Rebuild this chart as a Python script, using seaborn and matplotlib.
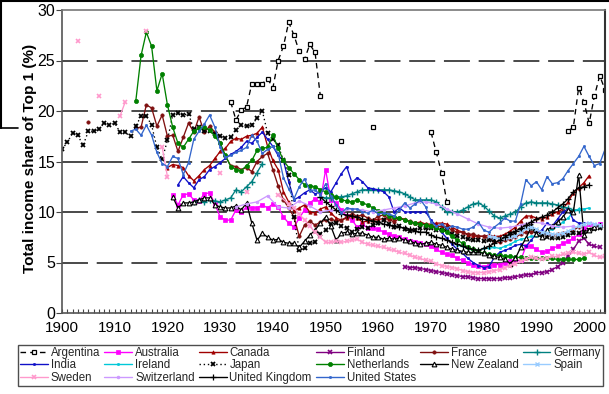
import matplotlib
matplotlib.use("Agg")
import matplotlib.pyplot as plt
import pandas as pd
import seaborn as sns
from matplotlib.lines import Line2D

sns.set_theme(style="white")
plt.rcParams['font.family'] = ['Liberation Sans', 'DejaVu Sans']
plt.rcParams['lines.scale_dashes'] = False

N = None  # gap in a series

# ---------------- data (top 1% income share, %) ----------------
arg_years = list(range(1932, 1951)) + [1953, 1954, 1959, 1960] + list(range(1970, 1975)) + list(range(1996, 2004))
arg_vals = [20.9, 19.1, 20.1, 20.4, 22.7, 22.7, 22.7, 23.2, 22.3, 25.0, 26.4, 28.8, 27.5, 25.9, 25.1, 26.6, 25.8, 21.5, N,
            17.0, N, 18.4, N,
            17.9, 15.9, 13.9, 11.0, N,
            18.0, 18.4, 22.3, 20.9, 18.8, 21.5, 23.5, 22.1]

aus_years = list(range(1921, 2003))
aus_vals = [11.7, 10.7, 11.7, 11.8, 11.2, 11.1, 11.8, 11.9, 10.8, 9.5, 9.2, 9.2, 10.2, 10.0, 10.5, 10.4, 10.4, 10.7, 10.4, 10.8,
            10.5, 9.5, 8.9, 8.5, 9.4, 10.2, 10.9, 11.3, 11.0, 14.2, 11.2, 10.9, 10.2, 9.6, 9.2, 8.5, 8.8, 8.4, 8.4, 8.3,
            8.0, 7.8, 7.6, 7.5, 7.3, 7.1, 7.0, 6.9, 6.8, 6.6, 6.3, 6.0, 5.8, 5.7, 5.4, 5.2, 5.0, 4.8, 4.7, 4.6,
            4.7, 4.8, 4.8, 5.0, 5.1, 5.2, 5.2, 6.6, 6.6, 6.3, 6.0, 6.1, 6.4, 6.6, 6.9, 7.1, 7.4, 7.8, 8.4, 8.8,
            8.7, 8.8]

can_years = list(range(1920, 2001))
can_vals = [14.4, 14.7, 14.6, 14.4, 13.6, 13.1, 13.6, 14.2, 14.6, 15.3, 16.0, 16.3, 17.0, 17.3, 17.2, 17.5, 17.6, 17.8, 18.4, 16.5,
            15.1, 14.2, 12.0, 11.0, 10.1, 10.4, 10.7, 10.0, 9.9, 10.3, 10.5, 9.9, 9.4, 9.2, 9.4, 9.6, 9.4, 9.0, 9.1, 9.2,
            9.3, 9.3, 9.3, 9.3, 9.4, 9.3, 9.0, 8.9, 9.0, 8.8, 8.8, 8.9, 8.9, 8.8, 8.5, 8.2, 8.0, 7.7, 7.6, 7.6,
            7.6, 7.7, 7.6, 7.6, 7.8, 8.1, 8.5, 9.1, 9.6, 9.6, 9.4, 9.3, 9.5, 9.8, 10.0, 10.3, 11.0, 11.9, 12.4, 12.9,
            13.6]

fin_years = list(range(1965, 2003))
fin_vals = [4.6, 4.5, 4.5, 4.4, 4.3, 4.2, 4.1, 4.0, 3.9, 3.8, 3.7, 3.6, 3.6, 3.5, 3.4, 3.4, 3.4, 3.4, 3.4, 3.5,
            3.5, 3.6, 3.7, 3.8, 3.8, 4.0, 4.0, 4.1, 4.3, 4.6, 5.0, 5.6, 6.3, 7.1, 7.4, 6.8, 6.6, 6.5]

fra_years = [1905, 1906] + list(range(1914, 1999))
fra_vals = [18.9, N,
            18.3, 18.4, 20.6, 20.3, 18.5, 19.6, 17.5, 17.6, 16.0, 17.4, 18.8, 17.9, 19.4, 17.9, 18.5, 17.9,
            16.8, 15.5, 14.6, 14.5, 14.2, 14.4, 14.0, 15.0, 15.5, 15.8, 14.2, 12.6, 11.2, 10.4, 9.5, 7.6,
            8.7, 9.1, 8.7, 9.0, 9.2, 9.3, 9.1, 9.2, 9.5, 9.8, 9.6, 9.7, 9.4, 9.2, 9.6, 9.7, 9.3, 9.0, 9.4, 9.2,
            9.1, 8.9, 8.8, 8.8, 8.6, 8.5, 8.6, 8.5, 8.2, 8.0, 8.0, 7.8, 7.8, 7.6, 7.6, 7.4, 7.1, 7.0, 7.2, 7.3,
            7.5, 7.8, 8.0, 8.0, 8.1, 8.0, 7.7, 7.7, 7.8, 7.9, 8.0, 8.2, 8.5]

ger_years = list(range(1925, 1940)) + list(range(1949, 1999))
ger_vals = [11.0, 11.2, 11.0, 11.2, 11.1, 11.0, 11.2, 11.4, 12.2, 12.0, 12.5, 13.0, 13.9, 14.8, N,
            11.5, 11.4, 11.4, 11.5, 11.5, 11.6, 11.8, 12.0, 12.2, 12.2, 12.2, 12.2, 12.2, 12.2, 12.1, 12.0, 11.8,
            11.5, 11.2, 11.2, 11.2, 11.2, 11.0, 10.5, 10.0, 10.0, 10.0, 10.2, 10.5, 10.8, 10.9, 10.6, 10.1, 9.6,
            9.4, 9.6, 9.8, 10.0, 10.5, 10.9, 11.0, 10.9, 10.9, 10.9, 10.8, 10.7, 10.5, 10.4, 10.2, 10.2]

ind_years = list(range(1922, 2000))
ind_vals = [12.7, 13.5, 12.9, 12.4, 13.2, 13.5, 14.2, 14.5, 14.9, 15.3, 15.7, 16.0, 16.4, 17.0, 16.8, 17.4, 17.9, 17.2,
            16.5, 15.6, 15.1, 13.0, 11.2, 11.5, 11.9, 12.2, 11.8, 12.0, 12.4, 12.0, 12.9, 13.8, 14.5, 12.9, 13.4,
            13.0, 12.4, 12.3, 12.2, 12.0, 11.5, 10.0, 10.4, 10.0, 10.0, 10.0, 10.0, 10.0, 9.2, 8.6, 8.0, 7.4, 6.8,
            6.3, 5.9, 5.4, 5.0, 4.7, 4.5, 4.6, 5.5, 6.0, 6.2, 6.4, 6.7, 6.8, 6.6, 7.2, 7.9, 8.2, 8.9, 8.6, 9.3,
            10.0, 10.3, 9.2, 8.9, 8.9]

irl_years = list(range(1975, 2001))
irl_vals = [6.7, 6.6, 6.4, 6.2, 6.2, 6.4, 6.4, 6.5, 6.4, 6.6, 6.8, 7.1, 7.3, 7.4, 7.6, 7.6, 7.8, 8.1, 8.3, 8.6,
            9.0, 9.4, 10.0, 10.3, 10.3, 10.4]

jpn_years = list(range(1900, 2003))
jpn_vals = [16.2, 16.9, 17.8, 17.6, 16.6, 18.0, 18.0, 18.2, 18.8, 18.6, 18.8, 17.9, 17.9, 17.5, 18.5, 19.5, 19.5, 18.6,
            16.4, 15.2, 17.1, 19.6, 19.8, 19.6, 19.7, 18.2, 18.4, 18.0, 18.0, 17.7, 17.5, 17.3, 17.4, 18.1, 18.6,
            18.5, 18.6, 19.3, 20.0, 17.8, 17.2, 16.6, 15.1, 13.7, 9.5, 6.2, 6.4, 6.9, 7.0, 7.8, 8.2, 8.8, 8.9,
            8.6, 8.4, 8.0, 8.3, 8.5, 8.4, 8.7, 8.9, 9.2, 8.8, 8.5, 8.6, 8.3, 8.1, 8.2, 8.4, 8.4, 8.4, 8.2, 8.2,
            8.3, 7.8, 7.6, 7.5, 7.3, 7.2, 7.2, 7.1, 7.2, 7.2, 7.3, 7.5, 7.8, 7.9, 8.2, 8.5, 8.6, 8.1, 7.7, 7.5,
            7.4, 7.4, 7.5, 7.7, 7.9, 7.9, 8.0, 8.2, 8.3, 8.4]

nld_years = list(range(1914, 2000))
nld_vals = [21.0, 25.5, 27.8, 26.4, 22.0, 23.7, 20.6, 18.4, 16.8, 16.4, 17.2, 18.0, 18.3, 18.4, 18.1, 17.5, 16.8,
            15.6, 14.5, 14.2, 14.1, 14.6, 15.1, 16.1, 16.3, 16.4, 17.6, 16.3, 15.1, 14.4, 13.8, 13.2, 12.7, 12.6,
            12.5, 12.2, 12.0, 11.7, 11.5, 11.2, 11.1, 11.0, 11.2, 10.9, 10.7, 10.4, 10.1, 9.9, 9.6, 9.5, 9.4,
            9.2, 9.0, 8.9, 8.8, 8.7, 8.6, 8.4, 8.2, 8.0, 7.6, 7.2, 6.9, 6.5, 6.3, 6.1, 5.9, 5.8, 5.7, 5.7, 5.6,
            5.6, 5.5, 5.5, 5.4, 5.4, 5.4, 5.4, 5.4, 5.4, 5.3, 5.3, 5.3, 5.3, 5.3, 5.4]

nzl_years = list(range(1921, 2003))
nzl_vals = [11.5, 10.4, 10.9, 10.9, 11.0, 11.2, 11.4, 11.4, 10.7, 10.5, 10.4, 10.4, 10.6, 10.2, 10.9, 8.9, 7.2, 7.9,
            7.5, 7.2, 7.3, 7.0, 6.9, 6.9, 6.5, 7.1, 7.7, 8.2, 8.9, 9.5, 8.6, 7.2, 7.9, 8.0, 7.8, 7.9, 7.9, 7.7,
            7.5, 7.5, 7.3, 7.4, 7.3, 7.4, 7.2, 7.1, 6.9, 6.8, 6.9, 7.0, 6.8, 6.7, 6.5, 6.3, 6.2, 6.1, 6.0, 6.0,
            6.0, 5.9, 5.7, 5.6, 5.5, 5.3, 4.9, 5.4, 6.5, 7.4, 8.5, 7.8, 7.5, 8.2, 8.6, 9.0, 9.5, 10.2, 10.0,
            13.7, 7.7, 8.2, 8.5, 8.7]

esp_years = list(range(1981, 2003))
esp_vals = [7.6, 7.5, 7.3, 7.4, 7.5, 7.6, 8.0, 8.4, 8.5, 8.3, 8.0, 7.9, 7.8, 7.8, 7.9, 8.1, 8.4, 8.6, 8.8, 8.9,
            8.8, 8.7]

swe_years = [1903, 1904, 1907, 1908, 1911, 1912, 1913, 1916, 1917, 1919, 1920, 1921, 1930, 1931, 1935, 1936,
             1941] + list(range(1943, 2004))
swe_vals = [26.9, N, 21.5, N, 19.5, 20.9, N, 27.9, N, 16.4, 13.5, N, 13.9, N, 12.0, N,
            11.7, 10.8, 10.4, 9.8, 9.2, 8.6, 8.0, 7.5, 7.0, 7.0, 7.1, 7.0, 7.1, 7.2, 7.3, 7.0, 6.8, 6.7, 6.6,
            6.5, 6.3, 6.2, 6.0, 5.9, 5.7, 5.5, 5.4, 5.2, 5.1, 4.9, 4.7, 4.6, 4.5, 4.4, 4.2, 4.1, 4.0, 4.0, 4.0,
            4.1, 4.2, 4.3, 4.5, 4.7, 4.9, 5.1, 5.3, 5.5, 5.4, 5.3, 5.4, 5.6, 5.6, 5.8, 5.9, 6.0, 5.9, 5.8, 6.0,
            5.7, 5.5, 5.6]

che_years = list(range(1933, 1998, 2))
che_vals = [10.5, 10.8, 11.0, 11.6, 10.5, 10.4, 11.1, 10.6, 10.0, 10.2, 10.0, 10.3, 10.2, 10.0, 10.2, 10.4, 10.6,
            10.9, 11.0, 10.8, 10.3, 9.8, 9.3, 8.8, 8.5, 8.4, 8.5, 8.7, 9.0, 8.9, 8.6, 8.5, 8.6]

gbr_years = list(range(1949, 2001))
gbr_vals = [11.5, 11.0, 10.6, 10.2, 9.8, 9.7, 9.6, 9.5, 9.3, 9.2, 9.1, 9.0, 8.8, 8.7, 8.6, 8.5, 8.4, 8.3, 8.1, 8.0,
            8.0, 7.7, 7.5, 7.4, 7.2, 7.0, 6.8, 6.6, 6.4, 6.3, 6.2, 6.4, 6.6, 6.9, 7.2, 7.5, 7.8, 8.1, 8.4, 8.7,
            9.0, 9.3, 9.5, 9.7, 10.0, 10.4, 10.8, 11.3, 12.0, 12.4, 12.5, 12.7]

usa_years = list(range(1913, 2004))
usa_vals = [18.0, 18.2, 17.6, 18.6, 17.6, 15.9, 14.8, 14.5, 15.5, 15.3, 13.7, 14.9, 17.2, 18.0, 18.7, 19.6, 18.4,
            16.4, 15.4, 15.6, 15.9, 16.1, 16.4, 17.6, 17.0, 15.8, 16.2, 16.5, 15.8, 13.4, 12.3, 11.3, 12.5, 13.3,
            12.1, 12.2, 11.7, 12.8, 11.6, 10.7, 9.9, 10.4, 10.3, 10.3, 10.0, 9.9, 10.2, 9.8, 9.9, 9.8, 9.6, 10.2,
            10.9, 10.4, 10.8, 11.2, 10.5, 9.0, 8.6, 8.8, 8.4, 8.6, 8.5, 8.3, 8.3, 8.5, 9.0, 8.2, 8.0, 8.5, 8.9,
            9.4, 9.1, 9.1, 10.8, 13.2, 12.6, 13.0, 12.2, 13.5, 12.8, 12.9, 13.3, 14.1, 14.8, 15.5, 16.5, 15.5,
            14.6, 14.8, 16.2]

countries = ['Argentina', 'Australia', 'Canada', 'Finland', 'France', 'Germany', 'India', 'Ireland', 'Japan',
             'Netherlands', 'New Zealand', 'Spain', 'Sweden', 'Switzerland', 'United Kingdom', 'United States']
series = [(arg_years, arg_vals), (aus_years, aus_vals), (can_years, can_vals), (fin_years, fin_vals),
          (fra_years, fra_vals), (ger_years, ger_vals), (ind_years, ind_vals), (irl_years, irl_vals),
          (jpn_years, jpn_vals), (nld_years, nld_vals), (nzl_years, nzl_vals), (esp_years, esp_vals),
          (swe_years, swe_vals), (che_years, che_vals), (gbr_years, gbr_vals), (usa_years, usa_vals)]

# ---------------- styles ----------------
styles = {
    'Argentina':      dict(color='#000000', ls=(0, (4, 3)), marker='s', ms=3.2, mfc='white', mew=0.9),
    'Australia':      dict(color='#ff00ff', ls='-', marker='s', ms=2.6, mfc='#ff00ff', mew=0.5),
    'Canada':         dict(color='#a00000', ls='-', marker='^', ms=2.4, mfc='#a00000', mew=0.5),
    'Finland':        dict(color='#800080', ls='-', marker='x', ms=3.2, mfc='#800080', mew=1.2),
    'France':         dict(color='#7f1010', ls='-', marker='o', ms=2.4, mfc='#7f1010', mew=0.5),
    'Germany':        dict(color='#008080', ls='-', marker='+', ms=4.0, mfc='#008080', mew=1.0),
    'India':          dict(color='#1010c8', ls='-', marker='o', ms=1.6, mfc='#1010c8', mew=0.5),
    'Ireland':        dict(color='#00c8d8', ls='-', marker='o', ms=1.6, mfc='#00c8d8', mew=0.5),
    'Japan':          dict(color='#000000', ls=(0, (1, 2)), marker='x', ms=3.4, mfc='#000000', mew=1.3),
    'Netherlands':    dict(color='#008000', ls='-', marker='o', ms=3.0, mfc='#008000', mew=0.5),
    'New Zealand':    dict(color='#000000', ls='-', marker='^', ms=3.4, mfc='white', mew=0.8),
    'Spain':          dict(color='#99ccff', ls='-', marker='x', ms=3.0, mfc='#99ccff', mew=1.0),
    'Sweden':         dict(color='#ff99cc', ls='-', marker='x', ms=3.4, mfc='#ff99cc', mew=1.2),
    'Switzerland':    dict(color='#cc99ff', ls='-', marker='o', ms=2.0, mfc='#cc99ff', mew=0.5),
    'United Kingdom': dict(color='#000000', ls='-', marker='+', ms=4.0, mfc='#000000', mew=0.9),
    'United States':  dict(color='#3366cc', ls='-', marker='o', ms=1.6, mfc='#3366cc', mew=0.5),
}


def build(name, years, vals):
    rows, seg = [], 0
    for y, v in zip(years, vals):
        if v is None:
            seg += 1
            continue
        rows.append((name, y, v, seg))
    return pd.DataFrame(rows, columns=['country', 'year', 'share', 'seg'])


W, H = 609, 394
fig = plt.figure(figsize=(W / 100, H / 100), dpi=100)
fig.patch.set_facecolor('white')
ax = fig.add_axes([62 / W, (H - 313) / H, (605 - 62) / W, (313 - 10) / H])
ax.set_facecolor('white')

# dashed horizontal reference lines
for yv in [5, 10, 15, 20, 25]:
    ax.axhline(yv, color='#3a3a3a', lw=1.3, ls=(0, (18.7, 6.3)), zorder=0)

for name, (yrs, vals) in zip(countries, series):
    st = styles[name]
    df = build(name, yrs, vals)
    sns.lineplot(data=df, x='year', y='share', units='seg', estimator=None, ax=ax, legend=False,
                 color=st['color'], linestyle=st['ls'], lw=0.95, marker=st['marker'],
                 markersize=st['ms'], markerfacecolor=st['mfc'], markeredgecolor=st['color'],
                 markeredgewidth=st['mew'])

ax.set_xlim(1900, 2003)
ax.set_ylim(0, 30)
ax.set_xticks(range(1900, 2001, 10))
ax.set_xticks(range(1900, 2004), minor=True)
ax.set_yticks(range(0, 31, 5))
ax.tick_params(axis='x', which='both', direction='in', length=3, width=0.8, color='#444444',
               labelsize=11, pad=6, bottom=True, labelcolor='black')
ax.tick_params(axis='y', which='major', direction='out', length=4, width=0.8, color='#444444',
               labelsize=11.5, pad=1, left=True, labelcolor='black')
ax.set_xlabel('')
ax.set_ylabel('')
for side in ['left', 'bottom']:
    ax.spines[side].set_color('#555555')
    ax.spines[side].set_linewidth(1.2)
ax.spines['top'].set_color('#777777')
ax.spines['top'].set_linewidth(1.2)
ax.spines['right'].set_color('#333333')
ax.spines['right'].set_linewidth(1.5)

fig.text(30 / W, (H - 158) / H, 'Total income share of Top 1 (%)', rotation=90,
         ha='center', va='center', fontsize=11, fontweight='bold', color='black')

# legend (row-major order reproduced for a 6-column layout)
handles = {}
for name in countries:
    st = styles[name]
    handles[name] = Line2D([], [], color=st['color'], ls=st['ls'], lw=1.0, marker=st['marker'],
                           markersize=st['ms'], markerfacecolor=st['mfc'], markeredgecolor=st['color'],
                           markeredgewidth=st['mew'])
ncol = 6
nrow = 3
order = []
for c in range(ncol):
    for r in range(nrow):
        i = r * ncol + c
        if i < len(countries):
            order.append(countries[i])
leg = fig.legend([handles[n] for n in order], order, ncol=ncol, loc='lower left',
                 bbox_to_anchor=(18 / W, 8 / H, 585 / W, 44 / H), mode='expand', fontsize=8.3,
                 frameon=True, fancybox=False, edgecolor='#222222', handlelength=2.4, handletextpad=0.25,
                 columnspacing=0.4, labelspacing=0.02, borderpad=0.2, borderaxespad=0)
leg.get_frame().set_linewidth(1.0)

# scan-border artefacts of the reference image
fig.add_artist(Line2D([0, 1], [1 - 0.5 / H, 1 - 0.5 / H], transform=fig.transFigure, color='black', lw=1.5))
fig.add_artist(Line2D([0.8 / W, 0.8 / W], [1, (H - 128) / H], transform=fig.transFigure, color='black', lw=1.5))
fig.add_artist(Line2D([0, 18 / W], [(H - 128) / H, (H - 128) / H], transform=fig.transFigure, color='black', lw=1.2))

fig.savefig('out.png', dpi=100, facecolor='white')
